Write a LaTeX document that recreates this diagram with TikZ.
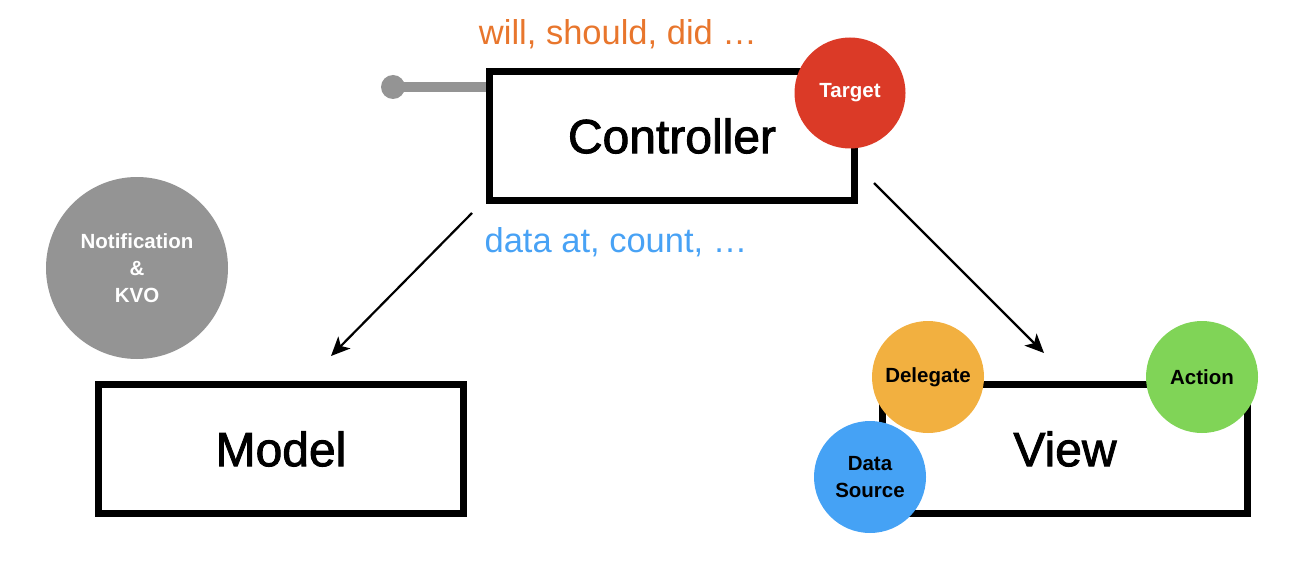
\documentclass[tikz,border=0pt]{standalone}
\usepackage{fontspec}
\setmainfont{Liberation Sans}
\newfontface\layerfont{Liberation Sans}[FakeBold=1.8]
\usetikzlibrary{arrows.meta,positioning}
\definecolor{callorange}{HTML}{E8762D}
\definecolor{callblue}{HTML}{48A2F5}
\definecolor{notegray}{HTML}{949494}
\definecolor{targetred}{HTML}{DB3A27}
\definecolor{delegateorange}{HTML}{F2B040}
\definecolor{actiongreen}{HTML}{80D457}
\definecolor{sourceblue}{HTML}{45A2F5}
\tikzset{
      layerbox/.style={
        draw=black,
        line width=6.5pt,
        fill=white,
        minimum width=365pt,
        minimum height=129pt,
        inner sep=0pt,
        font=\layerfont\fontsize{48}{56}\selectfont
      },
      rolecircle/.style={
        circle,
        minimum size=112pt,
        inner sep=0pt,
        align=center,
        font=\fontsize{20.5}{27}\selectfont\bfseries
      },
      calltext/.style={
        anchor=base,
        inner sep=0pt,
        font=\fontsize{34.5}{40}\selectfont
      },
      linkarrow/.style={
        -{Stealth[length=19pt,width=17pt,inset=5pt]},
        line width=2.2pt
      }
    }

\begin{document}
\begin{tikzpicture}[x=1pt,y=1pt]
    \useasboundingbox (0,0) rectangle (1300,566);
    \node[layerbox] (ctrl) at (672,430) {Controller};
    \node[layerbox] (model) at (281,117) {Model};
    \node[layerbox] (view) at (1065,117) {View};
    \node[calltext, text=callorange] (will) at (618,521) {will, should, did …};
    \node[calltext, text=callblue] (data) at (616,314) {data at, count, …};
    \node[rolecircle, fill=targetred, text=white, minimum size=111pt] (target) at (850,473) {Target};
    \node[rolecircle, fill=notegray, text=white, minimum size=182pt] (notify) at (137,298) {Notification\\\&\\KVO};
    \node[rolecircle, fill=delegateorange] (delegate) at (928,189) {Delegate};
    \node[rolecircle, fill=actiongreen] (action) at (1202,189) {Action};
    \node[rolecircle, fill=sourceblue] (source) at (870,89) {Data\\Source};
    \node[circle, fill=notegray, minimum size=24pt, inner sep=0pt] (plug) at (393,479) {};
    \draw[notegray, line width=10pt] (plug.center) -- (plug -| ctrl.west);
    \coordinate (tomodel) at (472,353);
    \coordinate (atmodel) at (331,210);
    \coordinate (toview) at (874,383);
    \coordinate (atview) at (1044,213);
    \draw[linkarrow] (tomodel) -- (atmodel);
    \draw[linkarrow] (toview) -- (atview);
    \end{tikzpicture}
\end{document}
